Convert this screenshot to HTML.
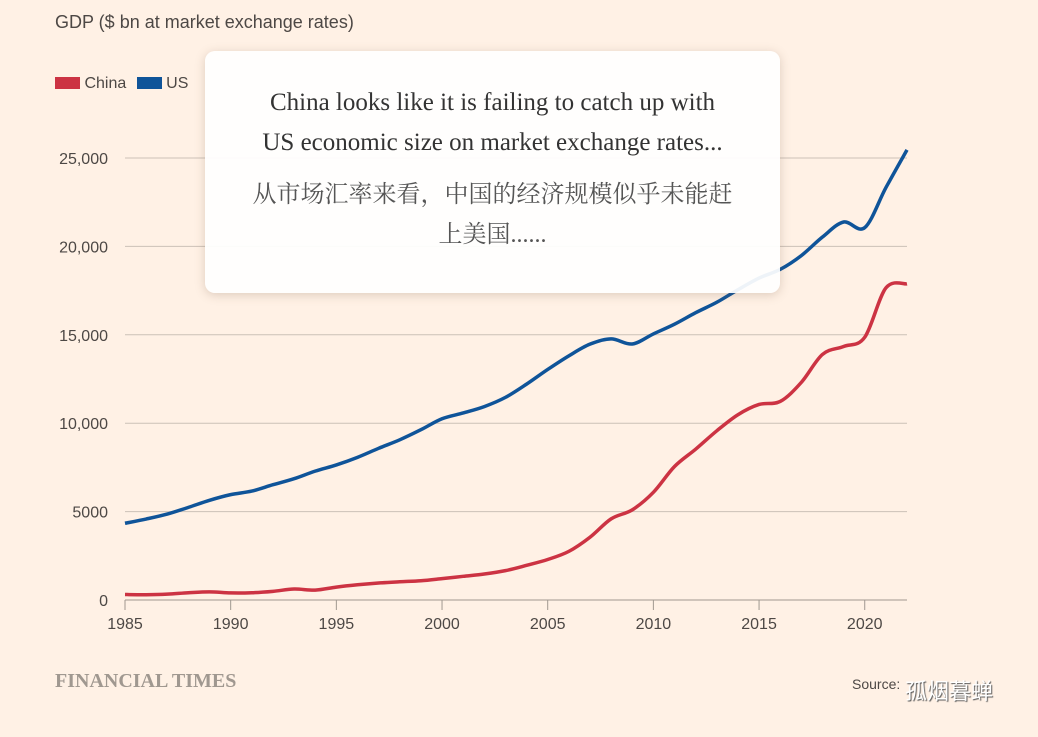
<!DOCTYPE html>
<html><head><meta charset="utf-8"><style>
body{margin:0;width:1038px;height:737px;background:#fff1e5;overflow:hidden;font-family:"Liberation Sans","Noto Sans CJK SC",sans-serif;position:relative}
.t{position:absolute;color:#4d4845}
#popup{position:absolute;left:205px;top:51px;width:575px;height:242px;background:rgba(255,255,255,0.93);border-radius:10px;box-shadow:0 2px 10px rgba(120,90,70,0.25);text-align:center;font-family:"Liberation Serif","Noto Serif CJK SC",serif;color:#333}
</style></head><body>
<div class="t" style="left:55px;top:12px;font-size:18px">GDP ($ bn at market exchange rates)</div>
<div style="position:absolute;left:55px;top:75px;font-size:16px;color:#4d4845">
<span><span style="display:inline-block;width:25px;height:12px;background:#cc3343;vertical-align:-1px"></span> China</span>
<span style="margin-left:6px"><span style="display:inline-block;width:25px;height:12px;background:#0f5499;vertical-align:-1px"></span> US</span>
</div>
<svg id="chart" width="1038" height="737" style="position:absolute;left:0;top:0"></svg>
<div class="t" style="left:55px;top:670px;font-family:'Liberation Serif',serif;font-weight:bold;font-size:20px;color:#a09890">FINANCIAL TIMES</div>
<div class="t" style="left:852px;top:676px;font-size:14px">Source:</div>
<div class="t" style="left:905px;top:674px;font-size:22px;color:#fff;text-shadow:1px 1px 1px #555">孤烟暮蝉</div>
<div id="popup">
<div style="font-size:25px;line-height:40px;margin-top:32px">China looks like it is failing to catch up with<br>US economic size on market exchange rates...</div>
<div style="font-size:24px;line-height:40px;margin-top:12px;color:#555">从市场汇率来看，中国的经济规模似乎未能赶<br>上美国......</div>
</div>
<script>
const years=[1985,1986,1987,1988,1989,1990,1991,1992,1993,1994,1995,1996,1997,1998,1999,2000,2001,2002,2003,2004,2005,2006,2007,2008,2009,2010,2011,2012,2013,2014,2015,2016,2017,2018,2019,2020,2021,2022];
const usValues=[4340,4580,4860,5240,5640,5960,6160,6520,6860,7290,7640,8070,8580,9060,9630,10250,10580,10940,11460,12210,13040,13810,14470,14770,14480,15050,15600,16250,16840,17550,18210,18700,19480,20530,21380,21060,23320,25460];
const chinaValues=[310,300,330,410,460,400,410,490,620,560,730,860,960,1030,1090,1210,1340,1470,1660,1960,2290,2750,3550,4590,5100,6090,7550,8530,9570,10480,11060,11230,12310,13890,14340,14860,17650,17880];
const yTicks=[0,5000,10000,15000,20000,25000];
const yTickLabels=["0","5000","10,000","15,000","20,000","25,000"];
const xTicks=[1985,1990,1995,2000,2005,2010,2015,2020];
const svg=document.getElementById('chart');const NS='http://www.w3.org/2000/svg';
const X=v=>125+(v-1985)*(907-125)/37;
const Y=v=>600-v*(600-158)/25000;
function mk(t,a){const e=document.createElementNS(NS,t);for(const k in a)e.setAttribute(k,a[k]);svg.appendChild(e);return e;}
yTicks.forEach((v,i)=>{
 if(v>0){const g=mk('line',{x1:125,x2:907,y1:Y(v),y2:Y(v),stroke:'#ccc1b7','stroke-width':1});
 
 }
 const t=mk('text',{x:108,y:Y(v)+6,'text-anchor':'end','font-size':16,fill:'#4d4845','font-family':'Liberation Sans,sans-serif'});t.textContent=yTickLabels[i];
 
 
});
const ax=mk('line',{x1:125,x2:907,y1:600,y2:600,stroke:'#a09890','stroke-width':1});


xTicks.forEach(v=>{
 const l=mk('line',{x1:X(v),x2:X(v),y1:600,y2:610,stroke:'#a09890'});
 
 
 const t=mk('text',{x:X(v),y:629,'text-anchor':'middle','font-size':16,fill:'#4d4845','font-family':'Liberation Sans,sans-serif'});t.textContent=v;
 
 
});
function path(vals){const p=vals.map((v,i)=>[X(years[i]),Y(v)]);let d='M'+p[0];
 for(let i=0;i<p.length-1;i++){const a=p[i-1]||p[i],b=p[i],c=p[i+1],e=p[i+2]||c;
 d+=' C'+(b[0]+(c[0]-a[0])/6)+','+(b[1]+(c[1]-a[1])/6)+' '+(c[0]-(e[0]-b[0])/6)+','+(c[1]-(e[1]-b[1])/6)+' '+c;}return d;}
const us=mk('path',{d:path(usValues),fill:'none',stroke:'#0f5499','stroke-width':3.5});


const cn=mk('path',{d:path(chinaValues),fill:'none',stroke:'#cc3343','stroke-width':3.5});


</script>
</body></html>
